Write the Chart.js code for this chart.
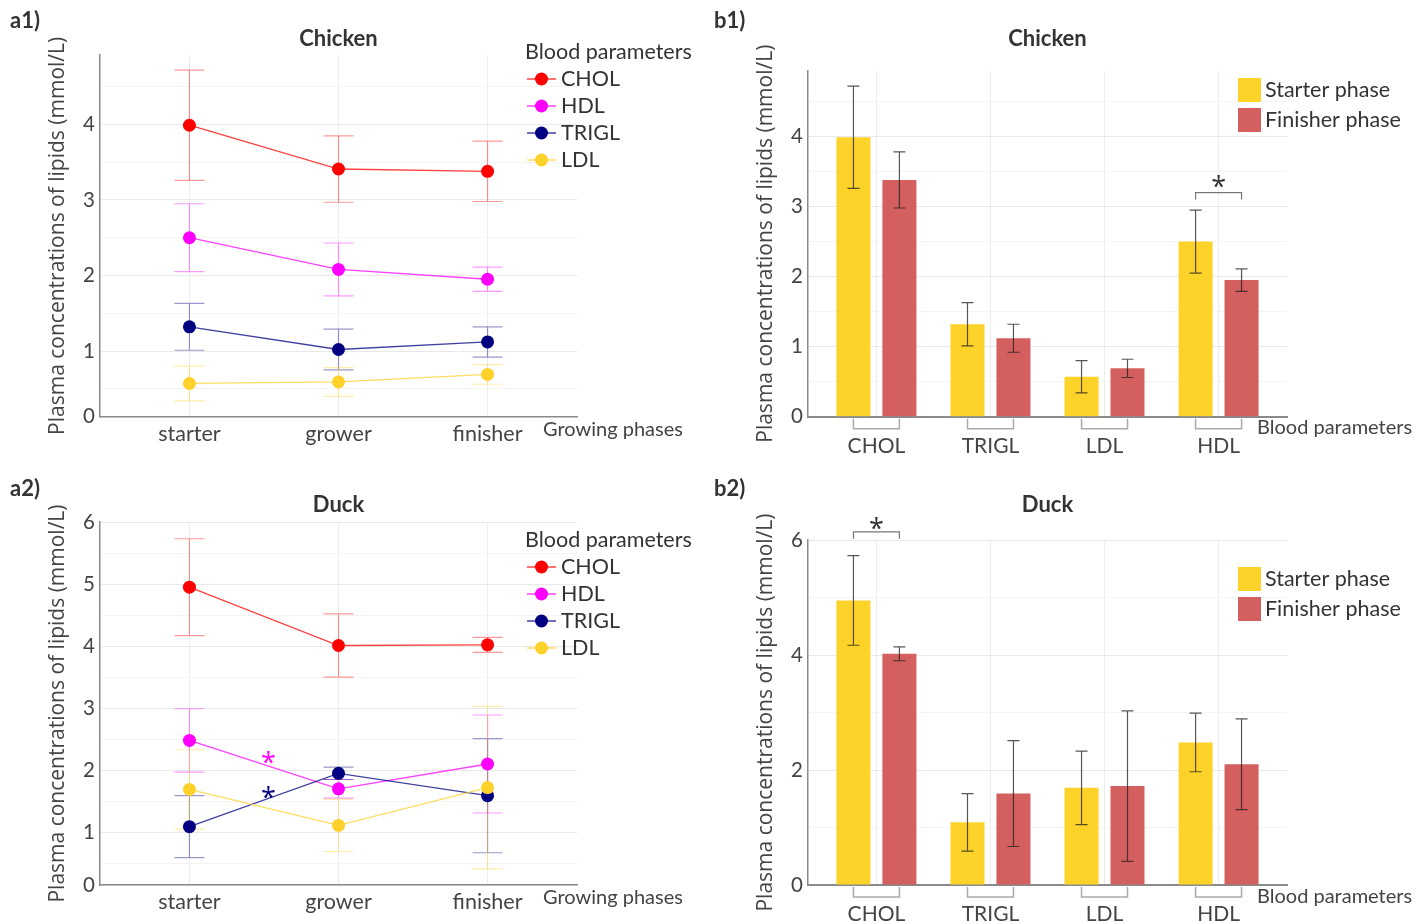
<!DOCTYPE html>
<html>
<head>
<meta charset="utf-8">
<script src="https://cdn.jsdelivr.net/npm/chart.js@4.4.1/dist/chart.umd.min.js"></script>
<style>
  body { margin: 0; background: #fff; width: 1422px; height: 922px; position: relative; overflow: hidden; }
  .panel { position: absolute; width: 711px; height: 461px; }
  .tag { position: absolute; font: bold 22px Lato, sans-serif; color: #333; }
  canvas { display: block; }
</style>
</head>
<body>
<div class="panel" style="left:0;top:0"><canvas id="a1" width="711" height="461"></canvas></div>
<div class="panel" style="left:711px;top:0"><canvas id="b1" width="711" height="461"></canvas></div>
<div class="panel" style="left:0;top:461px"><canvas id="a2" width="711" height="461"></canvas></div>
<div class="panel" style="left:711px;top:461px"><canvas id="b2" width="711" height="461"></canvas></div>
<div class="tag" style="left:10px;top:6px">a1)</div>
<div class="tag" style="left:714px;top:6px">b1)</div>
<div class="tag" style="left:10px;top:474px">a2)</div>
<div class="tag" style="left:714px;top:474px">b2)</div>
<script>
'use strict';
const phases = ['starter', 'grower', 'finisher'];
const params = ['CHOL', 'HDL', 'TRIGL', 'LDL'];
const barParams = ['CHOL', 'TRIGL', 'LDL', 'HDL'];
const barPhases = ['Starter phase', 'Finisher phase'];
const barCols = [0, 2]; // starter and finisher columns

// mean and SD, rows follow params, one column per phase
const chickenMean = [[3.99, 3.41, 3.38], [2.50, 2.08, 1.95], [1.32, 1.02, 1.12], [0.57, 0.59, 0.69]];
const chickenSd = [[0.73, 0.44, 0.40], [0.45, 0.35, 0.16], [0.31, 0.27, 0.20], [0.23, 0.19, 0.13]];
const duckMean = [[4.95, 4.01, 4.02], [2.48, 1.70, 2.10], [1.09, 1.95, 1.59], [1.69, 1.11, 1.72]];
const duckSd = [[0.78, 0.51, 0.12], [0.51, 0.15, 0.79], [0.50, 0.10, 0.92], [0.64, 0.42, 1.31]];

const lineColors = ['#ff0000', '#ff00ff', '#000080', '#fed12b'];
const barColors = ['#fdd32a', '#d45f5f'];
const yTitle = 'Plasma concentrations of lipids (mmol/L)';

Chart.defaults.font.family = 'Lato';
Chart.defaults.color = '#444';

function fade(hex, a) {
  let n = parseInt(hex.slice(1), 16);
  return 'rgba(' + (n >> 16) + ',' + ((n >> 8) & 255) + ',' + (n & 255) + ',' + a + ')';
}

function isMajor(v, step) {
  return Math.abs(v / step - Math.round(v / step)) < 1e-6;
}

function yTicks(min, max, minor) {
  let t = [{value: min}];
  for (let v = minor; v <= max + 1e-9; v += minor) {
    if (v > min + 1e-6) t.push({value: Math.round(v * 100) / 100});
  }
  return t;
}

function drawErrors(chart, o) {
  let ctx = chart.ctx;
  let ys = chart.scales.y;
  chart.data.datasets.forEach((ds, i) => {
    let meta = chart.getDatasetMeta(i);
    ctx.save();
    ctx.strokeStyle = ds.errColor;
    ctx.lineWidth = o.errWidth;
    meta.data.forEach((el, j) => {
      let v = ds.data[j].y;
      let top = ys.getPixelForValue(v + ds.sd[j]);
      let bot = ys.getPixelForValue(v - ds.sd[j]);
      ctx.beginPath();
      ctx.moveTo(el.x, top); ctx.lineTo(el.x, bot);
      ctx.moveTo(el.x - o.cap, top); ctx.lineTo(el.x + o.cap, top);
      ctx.moveTo(el.x - o.cap, bot); ctx.lineTo(el.x + o.cap, bot);
      ctx.stroke();
    });
    ctx.restore();
  });
}

function star(ctx, x, y, color) {
  ctx.fillStyle = color;
  ctx.font = '27px "Open Sans"';
  ctx.textAlign = 'center';
  ctx.textBaseline = 'alphabetic';
  ctx.fillText('*', x, y + 15);
}

const decor = {
  id: 'decor',
  beforeDatasetsDraw(chart, args, o) {
    if (o.errUnder) drawErrors(chart, o);
  },
  afterDatasetsDraw(chart, args, o) {
    if (!o.errUnder) drawErrors(chart, o);
  },
  afterDraw(chart, args, o) {
    let ctx = chart.ctx;
    let xs = chart.scales.x, ys = chart.scales.y;
    let area = chart.chartArea;
    ctx.save();
    // axis name at the right end of the x axis
    ctx.font = '20px Lato';
    ctx.fillStyle = '#444';
    ctx.textAlign = 'left';
    ctx.textBaseline = 'middle';
    ctx.fillText(o.xName.text, o.xName.x, o.xName.y);

    let lg = o.legend;
    ctx.font = '21.5px Lato';
    ctx.fillStyle = '#333';
    if (o.kind === 'line') {
      ctx.fillText('Blood parameters', lg.x, lg.y);
      chart.data.datasets.forEach((ds, i) => {
        let cy = lg.y + lg.gap * (i + 1);
        ctx.strokeStyle = ds.borderColor;
        ctx.lineWidth = 1.5;
        ctx.beginPath();
        ctx.moveTo(lg.x + 2, cy); ctx.lineTo(lg.x + 31, cy);
        ctx.stroke();
        ctx.fillStyle = ds.pointBackgroundColor;
        ctx.beginPath();
        ctx.arc(lg.x + 16.5, cy, 6.5, 0, Math.PI * 2);
        ctx.fill();
        ctx.fillStyle = '#333';
        ctx.fillText(ds.label, lg.x + 36, cy);
      });
      (o.stars || []).forEach(s => {
        star(ctx, xs.getPixelForValue(s.x), ys.getPixelForValue(s.y), s.color);
      });
    } else {
      chart.data.datasets.forEach((ds, i) => {
        let cy = lg.y + lg.gap * i;
        ctx.fillStyle = ds.backgroundColor;
        ctx.fillRect(lg.x, cy - 12, 23, 24);
        ctx.fillStyle = '#333';
        ctx.fillText(ds.label, lg.x + 27, cy);
      });
      // brackets joining each pair of bars under the axis
      let m0 = chart.getDatasetMeta(0), m1 = chart.getDatasetMeta(1);
      ctx.strokeStyle = '#aaa';
      ctx.lineWidth = 1.5;
      m0.data.forEach((el, j) => {
        let x0 = el.x, x1 = m1.data[j].x;
        ctx.beginPath();
        ctx.moveTo(x0, area.bottom + 2); ctx.lineTo(x0, area.bottom + 12);
        ctx.lineTo(x1, area.bottom + 12); ctx.lineTo(x1, area.bottom + 2);
        ctx.stroke();
      });
      // significance bracket
      let s = o.sig;
      let x0 = m0.data[s.index].x, x1 = m1.data[s.index].x;
      let yb = ys.getPixelForValue(s.y), yd = ys.getPixelForValue(s.drop);
      ctx.strokeStyle = '#777';
      ctx.lineWidth = 1.2;
      ctx.beginPath();
      ctx.moveTo(x0, yd); ctx.lineTo(x0, yb); ctx.lineTo(x1, yb); ctx.lineTo(x1, yd);
      ctx.stroke();
      star(ctx, (x0 + x1) / 2, ys.getPixelForValue(s.star), '#333');
    }
    ctx.restore();
  }
};

function yScale(cfg) {
  return {
    min: cfg.yMin,
    max: cfg.yMax,
    afterBuildTicks: s => { s.ticks = yTicks(cfg.yMin, cfg.yMax, cfg.minor); },
    afterFit: s => { s.width = cfg.yWidth; },
    ticks: {
      font: {size: 20.5},
      color: '#444',
      padding: 5,
      autoSkip: false,
      callback: v => (v === cfg.yMin ? '0' : (isMajor(v, cfg.major) ? String(v) : ''))
    },
    grid: {
      drawTicks: false,
      color: c => (isMajor(c.tick.value, cfg.major) ? '#e9e9e9' : '#f4f4f4')
    },
    border: {color: '#8a8a8a', width: 1.5},
    title: {
      display: true,
      text: yTitle,
      font: {family: 'Open Sans', size: 21, lineHeight: 1.2},
      color: '#444',
      padding: {top: cfg.yTitleX - 12.6}
    }
  };
}

function baseOptions(title, cfg) {
  return {
    responsive: false,
    animation: false,
    events: [],
    layout: {padding: {left: 0, right: cfg.right, top: 0, bottom: 0}, autoPadding: false},
    plugins: {
      legend: {display: false},
      tooltip: {enabled: false},
      title: {
        display: true,
        text: title,
        fullSize: false,
        color: '#333',
        font: {family: 'Lato', size: 22, weight: 'bold', lineHeight: 1.2},
        padding: {top: cfg.titleY - 13.2, bottom: cfg.top - cfg.titleY - 13.2}
      },
      decor: cfg.decor
    }
  };
}

function lineChart(id, title, mean, sd, cfg) {
  let opts = baseOptions(title, cfg);
  opts.scales = {
    x: {
      type: 'linear',
      min: -0.6,
      max: 2.6,
      afterBuildTicks: s => { s.ticks = phases.map((p, i) => ({value: i})); },
      afterFit: s => { s.height = cfg.xHeight; },
      ticks: {font: {size: 21.5}, color: '#444', padding: 4, maxRotation: 0, autoSkip: false,
        callback: v => phases[v]},
      grid: {drawTicks: false, color: '#ececec'},
      border: {color: '#8a8a8a', width: 1.5}
    },
    y: yScale(cfg)
  };
  new Chart(document.getElementById(id), {
    type: 'line',
    data: {
      datasets: params.map((p, i) => ({
        label: p,
        data: mean[i].map((v, j) => ({x: j, y: v})),
        sd: sd[i],
        errColor: fade(lineColors[i], 0.4),
        order: params.length - i,
        borderColor: fade(lineColors[i], 0.75),
        borderWidth: 1.3,
        tension: 0,
        pointBackgroundColor: lineColors[i],
        pointBorderWidth: 0,
        pointRadius: 6.5
      }))
    },
    plugins: [decor],
    options: opts
  });
}

function barChart(id, title, mean, sd, cfg) {
  let opts = baseOptions(title, cfg);
  opts.scales = {
    x: {
      type: 'linear',
      min: -0.6,
      max: 3.6,
      offset: false,
      afterBuildTicks: s => { s.ticks = barParams.map((p, i) => ({value: i})); },
      afterFit: s => { s.height = cfg.xHeight; },
      ticks: {font: {size: 21}, color: '#444', padding: 17, maxRotation: 0, autoSkip: false,
        callback: v => barParams[v]},
      grid: {drawTicks: false, offset: false, color: '#ececec'},
      border: {color: '#8a8a8a', width: 2}
    },
    y: yScale(cfg)
  };
  new Chart(document.getElementById(id), {
    type: 'bar',
    data: {
      datasets: barCols.map((c, k) => ({
        label: barPhases[k],
        data: barParams.map((p, j) => ({x: j, y: mean[params.indexOf(p)][c]})),
        sd: barParams.map(p => sd[params.indexOf(p)][c]),
        errColor: 'rgba(30,30,30,0.75)',
        backgroundColor: barColors[k],
        categoryPercentage: 0.806,
        barPercentage: 0.74
      }))
    },
    plugins: [decor],
    options: opts
  });
}

lineChart('a1', 'Chicken', chickenMean, chickenSd, {
  yMin: 0.13, yMax: 4.92, minor: 0.5, major: 1, yWidth: 100, yTitleX: 58, right: 134,
  top: 55, titleY: 39, xHeight: 44.3,
  decor: {
    kind: 'line', errUnder: true, errWidth: 1.2, cap: 15,
    xName: {text: 'Growing phases', x: 543, y: 430},
    legend: {x: 525, y: 52, gap: 27}
  }
});

barChart('b1', 'Chicken', chickenMean, chickenSd, {
  yMin: 0, yMax: 4.94, minor: 0.5, major: 1, yWidth: 97, yTitleX: 55, right: 135,
  top: 70.7, titleY: 39, xHeight: 44.3,
  decor: {
    kind: 'bar', errUnder: false, errWidth: 1.2, cap: 6,
    xName: {text: 'Blood parameters', x: 546, y: 428},
    legend: {x: 527, y: 90, gap: 30},
    sig: {index: 3, y: 3.2, drop: 3.1, star: 3.36}
  }
});

lineChart('a2', 'Duck', duckMean, duckSd, {
  yMin: 0.15, yMax: 6, minor: 0.5, major: 1, yWidth: 100, yTitleX: 58, right: 134,
  top: 61, titleY: 44, xHeight: 37,
  decor: {
    kind: 'line', errUnder: true, errWidth: 1.2, cap: 15,
    xName: {text: 'Growing phases', x: 543, y: 437},
    legend: {x: 525, y: 79, gap: 27},
    stars: [{x: 0.53, y: 2.21, color: '#ff00ff'}, {x: 0.53, y: 1.65, color: '#000080'}]
  }
});

barChart('b2', 'Duck', duckMean, duckSd, {
  yMin: 0, yMax: 6, minor: 1, major: 2, yWidth: 97, yTitleX: 55, right: 135,
  top: 79, titleY: 44, xHeight: 37,
  decor: {
    kind: 'bar', errUnder: false, errWidth: 1.2, cap: 6,
    xName: {text: 'Blood parameters', x: 546, y: 436},
    legend: {x: 527, y: 118, gap: 30},
    sig: {index: 0, y: 6.14, drop: 6.02, star: 6.3}
  }
});
</script>
</body>
</html>
